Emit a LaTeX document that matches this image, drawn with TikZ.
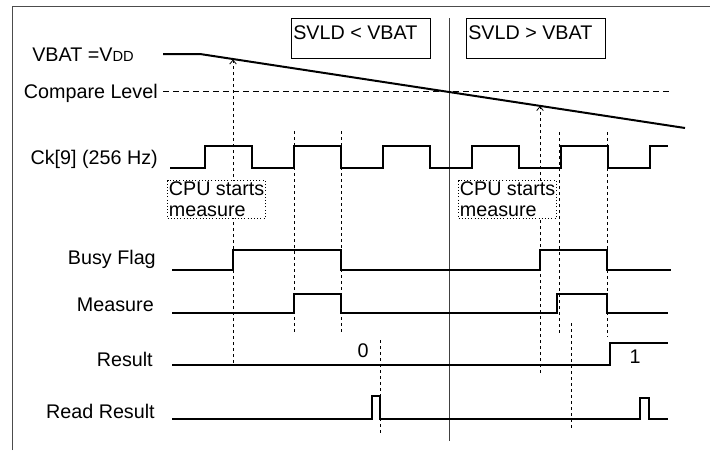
\documentclass[tikz,border=0pt]{standalone}
\usepackage{fontspec}
\setmainfont{Liberation Sans}
\usetikzlibrary{arrows.meta}

\begin{document}
\begin{tikzpicture}[
    x=0.75pt, y=-0.75pt,
    sig/.style={line width=1.5pt, line join=miter},
    guide/.style={line width=0.6pt, dash pattern=on 2.5pt off 2pt},
    cmp/.style={line width=0.6pt, dash pattern=on 4.5pt off 3pt},
    lbl/.style={anchor=base east, inner sep=0pt, font=\fontsize{14.8}{16}\selectfont},
    note/.style={draw, line width=0.8pt, dash pattern=on 0.8pt off 1.6pt, fill=white, align=left, anchor=north west, inner sep=1pt, font=\fontsize{14.8}{15.75}\selectfont},
    zone/.style={draw, line width=0.6pt, anchor=north west, minimum width=104pt, minimum height=30pt, inner sep=0pt},
    zonetxt/.style={anchor=base west, inner sep=0pt, font=\fontsize{14.8}{16}\selectfont},
    tip/.style={-{Straight Barb[length=3pt, width=5pt, line width=0.6pt]}}
]
\useasboundingbox (0,0) rectangle (710,450);

% frame
\draw[line width=0.7pt, black!70] (12,450) -- (12,6) -- (710,6);

% labels
\node[anchor=base west, inner sep=0pt, font=\fontsize{14.8}{16}\selectfont] (vbat) at (32,61) {VBAT =V{\fontsize{11}{12}\selectfont DD}};
\node[lbl] (cmplvl) at (158,98) {Compare Level};
\node[lbl] (ck) at (158,164) {Ck[9] (256 Hz)};
\node[lbl] (busy) at (156,264) {Busy Flag};
\node[lbl] (meas) at (154,311) {Measure};
\node[lbl] (res) at (153,366) {Result};
\node[lbl] (rdres) at (155,418) {Read Result};

% zones
\draw[line width=0.6pt, black!75] (449,18) -- (449,441);
\node[zone] (below) at (291,18) {};
\node[zonetxt] at (293,39) {SVLD < VBAT};
\node[zone] (above) at (466,18) {};
\node[zonetxt] at (468,39) {SVLD > VBAT};

% guides
\coordinate (s1) at (233,363);
\coordinate (t1) at (233,59.5);
\coordinate (s2) at (540,373);
\coordinate (t2) at (540,106);
\draw[guide, tip] (s1) -- (t1);
\draw[guide, tip] (s2) -- (t2);
\foreach \x/\ya/\yb in {294/131/333, 341/131/333, 559/132/333, 607/132/337, 571/323/430, 380/340/433}
    \draw[guide] (\x,\ya) -- (\x,\yb);

% levels
\draw[cmp] (163,91) -- (671,91);
\draw[sig] (163,54) -- (200,54) -- (685,128);

% clock
\draw[sig] (170,168)
    \foreach \r in {205,294,383,472,561} {
        -- (\r,168) -- (\r,146) -- (\r+47,146) -- (\r+47,168)
    } -- (650,168) -- (650,146) -- (668,146);

% busy flag
\draw[sig] (172,270) -- (233,270) -- (233,250) -- (341,250) -- (341,270)
    -- (540,270) -- (540,250) -- (607,250) -- (607,270) -- (671,270);

% measure
\draw[sig] (172,313) -- (294,313) -- (294,294) -- (341,294) -- (341,313)
    -- (557,313) -- (557,294) -- (607,294) -- (607,313) -- (668,313);

% result
\draw[sig] (172,365) -- (610,365) -- (610,343) -- (668,343);
\node[zonetxt, anchor=base] (r0) at (363,357) {0};
\node[zonetxt, anchor=base] (r1) at (635,363) {1};

% read result
\draw[sig] (172,419) -- (372,419) -- (372,396) -- (380,396) -- (380,419)
    -- (640,419) -- (640,398) -- (649,398) -- (649,419) -- (668,419);

% notes
\node[note] (cpu1) at (167,180) {CPU starts\\measure};
\node[note] (cpu2) at (458,180) {CPU starts\\measure};
\end{tikzpicture}
\end{document}
